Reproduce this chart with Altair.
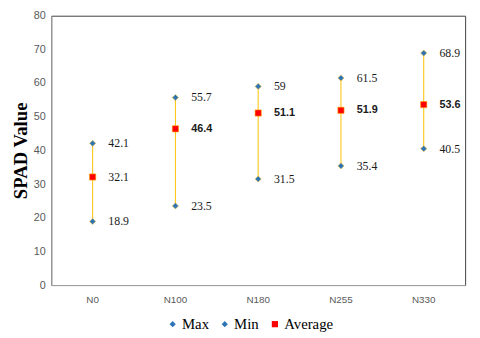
import altair as alt
import pandas as pd

categories = ["N0", "N100", "N180", "N255", "N330"]
max_vals = [42.1, 55.7, 59, 61.5, 68.9]
min_vals = [18.9, 23.5, 31.5, 35.4, 40.5]
avg_vals = [32.1, 46.4, 51.1, 51.9, 53.6]
avg_bold = [False, True, True, True, True]
y_ticks = [0, 10, 20, 30, 40, 50, 60, 70, 80]

wide = pd.DataFrame({"cat": categories, "Max": max_vals, "Min": min_vals, "Average": avg_vals})
long_rows = []
for c, mx, mn, av, b in zip(categories, max_vals, min_vals, avg_vals, avg_bold):
    long_rows.append({"cat": c, "series": "Max", "value": mx, "label": f"{mx:g}", "bold": False})
    long_rows.append({"cat": c, "series": "Min", "value": mn, "label": f"{mn:g}", "bold": False})
    long_rows.append({"cat": c, "series": "Average", "value": av, "label": f"{av:g}", "bold": b})
long = pd.DataFrame(long_rows)

x = alt.X("cat:N", sort=categories, title=None,
          scale=alt.Scale(paddingInner=0, paddingOuter=0),
          axis=alt.Axis(labelAngle=0, labelColor="#595959", labelFont="Liberation Sans",
                        labelFontSize=10, ticks=False, domainColor="#A6A6A6", labelPadding=10))
yscale = alt.Scale(domain=[0, 80])
yaxis = alt.Axis(values=y_ticks, grid=False, ticks=False, labelOverlap=False,
                 labelColor="#595959", labelFont="Liberation Sans", labelFontSize=11,
                 domainColor="#A6A6A6", labelPadding=6,
                 titleFont="Liberation Serif", titleFontSize=19, titleFontWeight="bold",
                 titleColor="#000000", titlePadding=3)


def yenc(field):
    return alt.Y(field, scale=yscale, title="SPAD Value", axis=yaxis)


rule = alt.Chart(wide).mark_rule(color="#FFC000", strokeWidth=1).encode(
    x=x, y=yenc("Min:Q"), y2="Max:Q",
)

series_order = ["Max", "Min", "Average"]
points = alt.Chart(long).mark_point(filled=True, opacity=1, strokeWidth=0.6).encode(
    x=x,
    y=yenc("value:Q"),
    color=alt.Color("series:N", sort=series_order,
                    scale=alt.Scale(domain=series_order, range=["#2E75B6", "#2E75B6", "#FF0000"]),
                    legend=alt.Legend(title=None, orient="none", direction="horizontal",
                                      legendX=116, legendY=306, labelFont="Liberation Serif",
                                      labelFontSize=15, labelColor="#000000", symbolSize=40,
                                      symbolStrokeWidth=0,
                                      columnPadding=8, labelOffset=2)),
    shape=alt.Shape("series:N", sort=series_order,
                    scale=alt.Scale(domain=series_order, range=["diamond", "diamond", "square"]),
                    legend=None),
    size=alt.Size("series:N", sort=series_order,
                  scale=alt.Scale(domain=series_order, range=[40, 40, 50]), legend=None),
    stroke=alt.Stroke("series:N", sort=series_order,
                      scale=alt.Scale(domain=series_order, range=["#F5C242", "#F5C242", "#FFA500"]),
                      legend=None),
)

labels_plain = alt.Chart(long).transform_filter("!datum.bold").mark_text(
    align="left", baseline="middle", dx=16, font="Liberation Serif", fontSize=12, color="#1a1a1a"
).encode(x=x, y=yenc("value:Q"), text="label:N")

labels_bold = alt.Chart(long).transform_filter("datum.bold").mark_text(
    align="left", baseline="middle", dx=16, font="Liberation Sans", fontSize=11,
    fontWeight="bold", color="#1a1a1a"
).encode(x=x, y=yenc("value:Q"), text="label:N")

chart = alt.layer(rule, points, labels_plain, labels_bold).properties(
    width=421, height=274,
    autosize=alt.AutoSizeParams(type="none"),
    padding={"left": 44, "top": 5, "right": 7, "bottom": 51},
).configure_view(stroke="#404040", strokeWidth=1)

chart.save("out.html", embed_options={"renderer": "svg", "actions": False})
